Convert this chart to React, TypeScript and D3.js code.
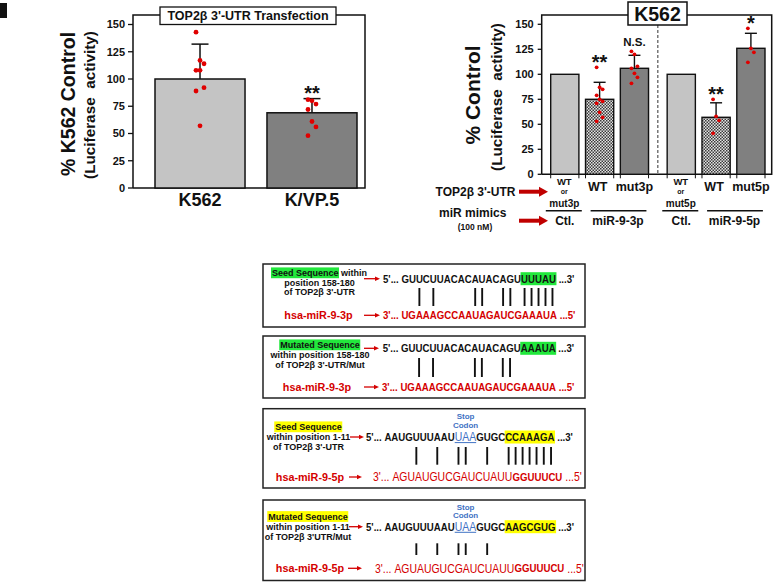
import React from "react";
import * as d3 from "d3";

const FONT = "Arial, 'Liberation Sans', Helvetica, sans-serif";

// ---------- Panel (left): TOP2β 3'-UTR transfection ----------
const leftCategories = ["K562", "K/VP.5"];
const leftMeans = [100, 69];
const leftErrors = [32, 13];
const leftPoints = [
  [143, 117, 114, 108, 108, 92, 89, 57],
  [81, 80, 77, 72, 61, 56, 48],
];
const leftSig = ["", "**"];
const leftTicks = [0, 25, 50, 75, 100, 125, 150];
const leftTitle = "TOP2β 3'-UTR Transfection";
const leftYLabel = "% K562 Control";
const leftYSub = "(Luciferase  activity)";

// ---------- Panel (right): K562 ----------
const rightGroups = ["miR-9-3p", "miR-9-5p"];
const rightBarKeys = ["ctl", "wt", "mut"];
const rightMeans = [
  [100, 75, 106],
  [100, 57, 126],
];
const rightErrors = [
  [0, 17, 13],
  [0, 14.5, 15],
];
const rightPoints = [
  [[], [107, 87, 85, 79, 75, 73, 71, 62, 57, 53], [123, 120, 108, 106, 101, 97, 91]],
  [[], [75, 58, 54, 41], [146, 126, 122, 112]],
];
const rightSig = [
  ["", "**", "N.S."],
  ["", "**", "*"],
];
const rightTicks = [0, 25, 50, 75, 100, 125, 150];
const rightTitle = "K562";
const rightYLabel = "% Control";
const rightYSub = "(Luciferase  activity)";
const rightCtlLabels = [
  ["WT", "or", "mut3p"],
  ["WT", "or", "mut5p"],
];
const rightTreatLabels = [
  ["WT", "mut3p"],
  ["WT", "mut5p"],
];
const rightCtlName = "Ctl.";
const rowLabel1 = "TOP2β 3'-UTR";
const rowLabel2 = "miR mimics";
const rowLabel2b = "(100 nM)";

// ---------- Sequence boxes ----------
type Seg = [string, string];
const boxLabels: Seg[][][] = [
  [[["Seed Sequence", "g"], [" within", ""]], [["position 158-180", ""]], [["of TOP2β 3'-UTR", ""]]],
  [[["Mutated Sequence", "g"]], [["within position 158-180", ""]], [["of TOP2β 3'-UTR/Mut", ""]]],
  [[["Seed Sequence", "y"]], [["within position 1-11", ""]], [["of TOP2β 3'-UTR", ""]]],
  [[["Mutated Sequence", "y"]], [["within position 1-11", ""]], [["of TOP2β 3'UTR/Mut", ""]]],
];
const boxMirNames = ["hsa-miR-9-3p", "hsa-miR-9-3p", "hsa-miR-9-5p", "hsa-miR-9-5p"];
const boxTargets: Seg[][] = [
  [["5'... ", "b"], ["GUUCUUACACAUACAGU", "b"], ["UUUAU", "bg"], [" ...3'", "b"]],
  [["5'... ", "b"], ["GUUCUUACACAUACAGU", "b"], ["AAAUA", "bg"], [" ...3'", "b"]],
  [["5'... ", "b"], ["AAUGUUUAAU", "b"], ["UAA", "stop"], ["GUGC", "b"], ["CCAAAGA", "by"], [" ...3'", "b"]],
  [["5'... ", "b"], ["AAUGUUUAAU", "b"], ["UAA", "stop"], ["GUGC", "b"], ["AAGCGUG", "by"], [" ...3'", "b"]],
];
const boxMirs: Seg[][] = [
  [["3'... ", "b"], ["UGAAAGCCAAUAGAUCGAAAUA", "b"], [" ...5'", "b"]],
  [["3'... ", "b"], ["UGAAAGCCAAUAGAUCGAAAUA", "b"], [" ...5'", "b"]],
  [["3'... ", "r"], ["AGUAUGUCGAUCUAUU", "r"], ["GGUUUCU", "b"], [" ...5'", "r"]],
  [["3'... ", "r"], ["AGUAUGUCGAUCUAUU", "r"], ["GGUUUCU", "b"], [" ...5'", "r"]],
];
// paired positions (1-based index into the target nucleotides)
const boxPairs = [
  [3, 5, 11, 12, 15, 16, 18, 19, 20, 21, 22],
  [3, 5, 11, 12, 15, 16],
  [5, 8, 11, 12, 15, 18, 19, 20, 21, 22, 23, 24],
  [5, 8, 11, 12, 15],
];
const stopText = ["Stop", "Codon"];

// layout (positions only)
const seqLayout = [
  { top: 264, bottom: 327, labelCx: 319.5, labelY: [273, 283, 292.3], targetY: 278.7, targetX: 383, pairY: [288, 306], mirY: 315.3, mirX: 383, mirCx: 318.5, arrowT: [364, 380], arrowM: [364, 380], stopY: null as null | number[] },
  { top: 336, bottom: 398, labelCx: 320, labelY: [345, 355, 365], targetY: 348.3, targetX: 382.7, pairY: [358, 377], mirY: 387, mirX: 382, mirCx: 317, arrowT: [364, 379], arrowM: [364, 379], stopY: null },
  { top: 408.7, bottom: 488, labelCx: 308.5, labelY: [427, 437, 447], targetY: 437, targetX: 366, pairY: [447, 464.7], mirY: 477, mirX: 373, mirCx: 310, arrowT: [350, 364], arrowM: [349, 362], stopY: [416.5, 425.5] },
  { top: 500, bottom: 580.5, labelCx: 308, labelY: [516.7, 526.7, 536.7], targetY: 526.7, targetX: 366, pairY: [543.3, 555], mirY: 568.3, mirX: 375, mirCx: 310, arrowT: [349, 363], arrowM: [348, 362], stopY: [507, 515.5] },
];
const BOX_L = 263;
const BOX_R = 585;
const SEQ_SIZE_B = 11.5;
const SEQ_SX_B = 0.84;
const SEQ_SIZE_R = 12;
const SEQ_SX_R = 0.87;

const RED = "#d40000";
const GREEN = "#22e83c";
const YELLOW = "#ffff00";
const BLUE = "#3f72c4";
const LIGHT = "#c4c4c4";
const DARK = "#808080";

let _ctx: CanvasRenderingContext2D | null = null;
function tw(s: string, size: number, bold: boolean) {
  if (!_ctx) _ctx = document.createElement("canvas").getContext("2d");
  _ctx!.font = `${bold ? "bold " : ""}${size}px Arial, "Liberation Sans", sans-serif`;
  return _ctx!.measureText(s).width;
}

function Arrow({ x1, x2, y, w, head, hw, color }: any) {
  return (
    <g>
      <line x1={x1} x2={x2 - head + 0.5} y1={y} y2={y} stroke={color} strokeWidth={w} />
      <path d={`M${x2 - head},${y - hw}L${x2},${y}L${x2 - head},${y + hw}Z`} fill={color} />
    </g>
  );
}

function LabelLine({ segs, cx, y, size }: { segs: Seg[]; cx: number; y: number; size: number }) {
  const widths = segs.map((s) => tw(s[0], size, true));
  const total = d3.sum(widths);
  let x = cx - total / 2;
  const rects: any[] = [];
  segs.forEach((s, i) => {
    if (s[1] === "g" || s[1] === "y") {
      rects.push(
        <rect key={i} x={x - 1} y={y - size * 0.62} width={widths[i] + 1.5} height={size * 1.2} fill={s[1] === "g" ? GREEN : YELLOW} />
      );
    }
    x += widths[i];
  });
  return (
    <g>
      {rects}
      <text x={cx - total / 2} y={y} dy="0.35em" fontSize={size} fontWeight="bold" fill="#111" style={{ whiteSpace: "pre" }}>
        {segs.map((s, i) => (
          <tspan key={i}>{s[0]}</tspan>
        ))}
      </text>
    </g>
  );
}

// lays out a sequence line; returns elements and nucleotide centers (skipping first/last piece)
function seqLine(pieces: Seg[], x0: number, y: number, color: string, keyp: string) {
  const els: any[] = [];
  const hls: any[] = [];
  const centers: number[] = [];
  let x = x0;
  pieces.forEach((p, k) => {
    const bold = p[1] !== "stop" && p[1] !== "r";
    const size = bold ? SEQ_SIZE_B : SEQ_SIZE_R;
    const sx = bold ? SEQ_SX_B : SEQ_SX_R;
    const w = tw(p[0], size, bold) * sx;
    if (k > 0 && k < pieces.length - 1) {
      for (let c = 0; c < p[0].length; c++) {
        const pre = tw(p[0].slice(0, c), size, bold) * sx;
        const cw = tw(p[0][c], size, bold) * sx;
        centers.push(x + pre + cw / 2);
      }
    }
    if (p[1] === "bg" || p[1] === "by") {
      hls.push(<rect key={keyp + "h" + k} x={x - 0.5} y={y - 6.5} width={w + 1} height={13} fill={p[1] === "bg" ? GREEN : YELLOW} />);
    }
    const fill = p[1] === "stop" ? BLUE : color;
    els.push(
      <text
        key={keyp + k}
        transform={`translate(${x},${y}) scale(${sx},1)`}
        dy="0.36em"
        fontSize={size}
        fontWeight={bold ? "bold" : "normal"}
        fill={fill}
        style={{ whiteSpace: "pre" }}
      >
        {p[0]}
      </text>
    );
    if (p[1] === "stop") {
      els.push(<line key={keyp + "u" + k} x1={x} x2={x + w} y1={y + 5.6} y2={y + 5.6} stroke={BLUE} strokeWidth={1} />);
    }
    x += w;
  });
  return { els: [...hls, ...els], centers, pieces, x0 };
}

function SeqBox({ i }: { i: number }) {
  const L = seqLayout[i];
  const tgt = seqLine(boxTargets[i], L.targetX, L.targetY, "#111", "t");
  const mir = seqLine(boxMirs[i], L.mirX, L.mirY, RED, "m");
  let stopCx = 0;
  {
    let idx = 0;
    boxTargets[i].forEach((p, k) => {
      if (k === 0 || k === boxTargets[i].length - 1) return;
      if (p[1] === "stop") stopCx = (tgt.centers[idx] + tgt.centers[idx + p[0].length - 1]) / 2;
      idx += p[0].length;
    });
  }
  return (
    <g>
      <rect x={BOX_L} y={L.top} width={BOX_R - BOX_L} height={L.bottom - L.top} fill="#fff" stroke="#222" strokeWidth={1.5} />
      {boxLabels[i].map((segs, j) => (
        <LabelLine key={j} segs={segs} cx={L.labelCx} y={L.labelY[j]} size={9} />
      ))}
      <text x={L.mirCx} y={L.mirY} dy="0.35em" textAnchor="middle" fontSize={10.8} fontWeight="bold" fill={RED}>
        {boxMirNames[i]}
      </text>
      <Arrow x1={L.arrowT[0]} x2={L.arrowT[1]} y={L.targetY} w={1.3} head={5} hw={2.3} color={RED} />
      <Arrow x1={L.arrowM[0]} x2={L.arrowM[1]} y={L.mirY} w={1.3} head={5} hw={2.3} color={RED} />
      {tgt.els}
      {L.stopY &&
        stopText.map((t, q) => (
          <text key={q} x={stopCx} y={L.stopY![q]} dy="0.35em" textAnchor="middle" fontSize={8} fontWeight="bold" fill={BLUE}>
            {t}
          </text>
        ))}
      {boxPairs[i].map((p) => (
        <line key={p} x1={tgt.centers[p - 1]} x2={tgt.centers[p - 1]} y1={L.pairY[0]} y2={L.pairY[1]} stroke="#111" strokeWidth={1.9} />
      ))}
      {mir.els}
    </g>
  );
}

const jitter = (i: number, n: number, amp: number) => (n <= 1 ? 0 : ((i % 3) - 1) * amp);

function Sig({ x, yc, text }: { x: number; yc: number; text: string }) {
  if (!text) return null;
  if (text === "N.S.")
    return (
      <text x={x} y={yc} dy="0.35em" textAnchor="middle" fontSize={11.5} fontWeight="bold">
        {text}
      </text>
    );
  return (
    <text x={x} y={yc + 11.4} textAnchor="middle" fontSize={20} fontWeight="bold">
      {text}
    </text>
  );
}

function LeftChart() {
  const y = d3.scaleLinear().domain([0, 150]).range([188, 24.5]);
  const x = d3.scaleBand<string>().domain(leftCategories).range([155, 357]).paddingInner(0.196);
  const frame = { l: 133, r: 365, t: 15, b: 188 };
  const fills = [LIGHT, DARK];
  return (
    <g>
      <rect x={0} y={3} width={7} height={15} fill="#111" />
      <path d={`M${frame.l},${frame.b}V${frame.t}H${frame.r}V${frame.b}H${frame.l}`} fill="none" stroke="#111" strokeWidth={1.5} />
      {leftTicks.map((t) => (
        <g key={t}>
          <line x1={frame.l - 5} x2={frame.l} y1={y(t)} y2={y(t)} stroke="#111" strokeWidth={1.3} />
          <text x={frame.l - 8} y={y(t)} dy="0.35em" textAnchor="end" fontSize={11} fontWeight="bold">
            {t}
          </text>
        </g>
      ))}
      {leftCategories.map((c, i) => {
        const x0 = x(c)!;
        const bw = x.bandwidth();
        const cxm = x0 + bw / 2;
        const top = y(leftMeans[i]);
        const etop = y(leftMeans[i] + leftErrors[i]);
        const hi = Math.min(etop, y(d3.max(leftPoints[i])!));
        return (
          <g key={c}>
            <rect x={x0} y={top} width={bw} height={y(0) - top} fill={fills[i]} stroke="#111" strokeWidth={1.5} />
            <line x1={cxm} x2={cxm} y1={top} y2={etop} stroke="#111" strokeWidth={1.5} />
            <line x1={cxm - 8.5} x2={cxm + 8.5} y1={etop} y2={etop} stroke="#111" strokeWidth={1.5} />
            {leftPoints[i].map((v, k) => (
              <circle key={k} cx={cxm + jitter(k, leftPoints[i].length, 4)} cy={y(v)} r={2.4} fill="#e00000" />
            ))}
            <Sig x={cxm} yc={hi - 10} text={leftSig[i]} />
            <text x={cxm} y={200} dy="0.35em" textAnchor="middle" fontSize={18} fontWeight="bold">
              {c}
            </text>
          </g>
        );
      })}
      <rect x={160} y={7} width={176} height={17.5} fill="#fff" stroke="#111" strokeWidth={1.3} />
      <text x={248} y={15.8} dy="0.35em" textAnchor="middle" fontSize={12.5} fontWeight="bold">
        {leftTitle}
      </text>
      <text transform={`translate(68.5,104) rotate(-90)`} textAnchor="middle" dy="0.35em" fontSize={19.5} fontWeight="bold">
        {leftYLabel}
      </text>
      <text transform={`translate(90,105) rotate(-90)`} textAnchor="middle" dy="0.35em" fontSize={15.3} fontWeight="bold" style={{ whiteSpace: "pre" }}>
        {leftYSub}
      </text>
    </g>
  );
}

function RightChart() {
  const y = d3.scaleLinear().domain([0, 150]).range([174.3, 24.3]);
  const outer = d3.scaleBand<string>().domain(rightGroups).range([550.7, 765]).paddingInner(0.16);
  const inner = d3.scaleBand<string>().domain(rightBarKeys).range([0, outer.bandwidth()]).paddingInner(0.19);
  const frame = { l: 541.7, r: 771.7, t: 15, b: 174.3 };
  const fills = [LIGHT, "url(#chk)", DARK];
  const bw = inner.bandwidth();
  const divX = (outer(rightGroups[0])! + outer.bandwidth() + outer(rightGroups[1])!) / 2;
  return (
    <g>
      <defs>
        <pattern id="chk" width={3} height={3} patternUnits="userSpaceOnUse">
          <rect width={3} height={3} fill="#e4e4e4" />
          <rect width={1.5} height={1.5} fill="#3a3a3a" />
          <rect x={1.5} y={1.5} width={1.5} height={1.5} fill="#3a3a3a" />
        </pattern>
      </defs>
      <path d={`M${frame.l},${frame.b}V${frame.t}H${frame.r}V${frame.b}H${frame.l}`} fill="none" stroke="#111" strokeWidth={1.5} />
      <line x1={divX} x2={divX} y1={frame.t} y2={frame.b} stroke="#333" strokeWidth={1} strokeDasharray="3,2" />
      {rightTicks.map((t) => (
        <g key={t}>
          <line x1={frame.l - 4} x2={frame.l} y1={y(t)} y2={y(t)} stroke="#111" strokeWidth={1.3} />
          <text x={frame.l - 8} y={y(t)} dy="0.35em" textAnchor="end" fontSize={11} fontWeight="bold">
            {t}
          </text>
        </g>
      ))}
      {rightGroups.map((g, gi) => {
        const gx = outer(g)!;
        const c0 = gx + inner("ctl")! + bw / 2;
        const cw = gx + inner("wt")! + bw / 2;
        const cm = gx + inner("mut")! + bw / 2;
        return (
          <g key={g}>
            {rightBarKeys.map((k, bi) => {
              const x0 = gx + inner(k)!;
              const cxm = x0 + bw / 2;
              const m = rightMeans[gi][bi];
              const top = y(m);
              const err = rightErrors[gi][bi];
              const etop = y(m + err);
              const pts = rightPoints[gi][bi];
              const hi = pts.length ? Math.min(etop, y(d3.max(pts)!)) : etop;
              return (
                <g key={k}>
                  <rect x={x0} y={top} width={bw} height={y(0) - top} fill={fills[bi]} stroke="#111" strokeWidth={1.4} />
                  <line x1={x0} x2={x0} y1={frame.b} y2={frame.b + 4} stroke="#111" strokeWidth={1} />
                  <line x1={x0 + bw} x2={x0 + bw} y1={frame.b} y2={frame.b + 4} stroke="#111" strokeWidth={1} />
                  {err > 0 && (
                    <g>
                      <line x1={cxm} x2={cxm} y1={top} y2={etop} stroke="#111" strokeWidth={1.4} />
                      <line x1={cxm - 6} x2={cxm + 6} y1={etop} y2={etop} stroke="#111" strokeWidth={1.4} />
                    </g>
                  )}
                  {pts.map((v, q) => (
                    <circle key={q} cx={cxm + jitter(q, pts.length, 3)} cy={y(v)} r={1.9} fill="#e00000" />
                  ))}
                  <Sig x={cxm} yc={hi - 9.5} text={rightSig[gi][bi]} />
                </g>
              );
            })}
            <text x={c0 - 0.5} y={181.7} dy="0.35em" textAnchor="middle" fontSize={9.5} fontWeight="bold">
              {rightCtlLabels[gi][0]}
            </text>
            <text x={c0 - 0.5} y={191.7} dy="0.35em" textAnchor="middle" fontSize={7} fontWeight="bold">
              {rightCtlLabels[gi][1]}
            </text>
            <text x={c0 - 0.5} y={203.3} dy="0.35em" textAnchor="middle" fontSize={10} fontWeight="bold">
              {rightCtlLabels[gi][2]}
            </text>
            <line x1={c0 - 19} x2={c0 + 17} y1={210.7} y2={210.7} stroke="#111" strokeWidth={1.5} />
            <text x={c0} y={220.5} dy="0.35em" textAnchor="middle" fontSize={12} fontWeight="bold">
              {rightCtlName}
            </text>
            <text x={cw - 2} y={186.7} dy="0.35em" textAnchor="middle" fontSize={12.5} fontWeight="bold">
              {rightTreatLabels[gi][0]}
            </text>
            <text x={cm} y={186.7} dy="0.35em" textAnchor="middle" fontSize={12.5} fontWeight="bold">
              {rightTreatLabels[gi][1]}
            </text>
            <line x1={cw - 9} x2={cm + 12} y1={210.7} y2={210.7} stroke="#111" strokeWidth={1.5} />
            <text x={(cw + cm) / 2 + 1} y={220.5} dy="0.35em" textAnchor="middle" fontSize={12} fontWeight="bold">
              {g}
            </text>
          </g>
        );
      })}
      <rect x={628} y={2} width={59} height={23} fill="#fff" stroke="#111" strokeWidth={1.5} />
      <text x={657.5} y={13.8} dy="0.35em" textAnchor="middle" fontSize={19.5} fontWeight="bold">
        {rightTitle}
      </text>
      <text transform={`translate(473,95) rotate(-90)`} textAnchor="middle" dy="0.35em" fontSize={21} fontWeight="bold">
        {rightYLabel}
      </text>
      <text transform={`translate(496.7,97) rotate(-90)`} textAnchor="middle" dy="0.35em" fontSize={15.3} fontWeight="bold" style={{ whiteSpace: "pre" }}>
        {rightYSub}
      </text>
      <text x={475.5} y={191.7} dy="0.35em" textAnchor="middle" fontSize={12} fontWeight="bold">
        {rowLabel1}
      </text>
      <text x={472.7} y={212.7} dy="0.35em" textAnchor="middle" fontSize={12} fontWeight="bold">
        {rowLabel2}
      </text>
      <text x={475} y={227.3} dy="0.35em" textAnchor="middle" fontSize={8.5} fontWeight="bold">
        {rowLabel2b}
      </text>
      <Arrow x1={519} x2={548} y={191.7} w={4} head={9} hw={5} color="#c00000" />
      <Arrow x1={519} x2={548} y={220.7} w={4} head={9} hw={5} color="#c00000" />
    </g>
  );
}

export default function App() {
  return (
    <div style={{ position: "fixed", left: 0, top: 0, width: 775, height: 582, background: "#fff" }}>
      <svg width={775} height={582} viewBox="0 0 775 582" style={{ fontFamily: FONT, display: "block" }} fill="#111">
        <rect width={775} height={582} fill="#fff" />
        <LeftChart />
        <RightChart />
        {seqLayout.map((_, i) => (
          <SeqBox key={i} i={i} />
        ))}
      </svg>
    </div>
  );
}
